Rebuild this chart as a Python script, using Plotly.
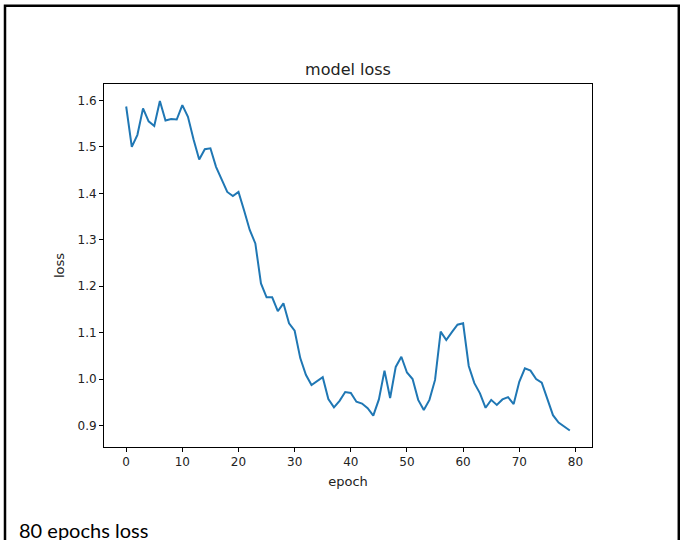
import plotly.graph_objects as go

epochs = list(range(80))
loss = [1.587, 1.500, 1.526, 1.583, 1.555, 1.545, 1.599, 1.557, 1.560, 1.559,
        1.590, 1.565, 1.516, 1.473, 1.495, 1.497, 1.457, 1.431, 1.403, 1.394,
        1.403, 1.363, 1.321, 1.292, 1.206, 1.176, 1.176, 1.146, 1.163, 1.120,
        1.104, 1.045, 1.009, 0.987, 0.995, 1.004, 0.957, 0.939, 0.953, 0.972,
        0.970, 0.951, 0.947, 0.937, 0.921, 0.956, 1.018, 0.959, 1.026, 1.048,
        1.014, 1.000, 0.955, 0.933, 0.955, 0.998, 1.102, 1.084, 1.101, 1.117,
        1.120, 1.028, 0.991, 0.969, 0.938, 0.955, 0.944, 0.956, 0.961, 0.946,
        0.994, 1.023, 1.018, 1.000, 0.992, 0.956, 0.922, 0.906, 0.898, 0.889]

x_ticks = [0, 10, 20, 30, 40, 50, 60, 70, 80]
y_ticks = [0.9, 1.0, 1.1, 1.2, 1.3, 1.4, 1.5, 1.6]
title_text = "model loss"
x_label = "epoch"
y_label = "loss"
caption = "80 epochs loss"

L, R, T, B = 104, 592, 84, 447
W, H = 680, 540
pw, ph = R - L, B - T

def px(xp):
    return (xp - L) / pw

def py(yp):
    return (B - yp) / ph

fig = go.Figure()
fig.add_trace(go.Scatter(x=epochs, y=loss, mode="lines",
                         line=dict(color="#1f77b4", width=2),
                         hoverinfo="skip", showlegend=False))

axis_common = dict(showgrid=False, zeroline=False, showline=True, linecolor="black",
                   linewidth=1, mirror=True, ticks="outside", ticklen=4, tickwidth=1,
                   tickcolor="black", tickfont=dict(family="DejaVu Sans", size=12, color="#222"))

fig.update_xaxes(range=[-3.95, 82.95], tickvals=x_ticks, ticktext=[str(v) for v in x_ticks],
                 title=dict(text=x_label, font=dict(family="DejaVu Sans", size=13, color="#222"), standoff=8),
                 **axis_common)
fig.update_yaxes(range=[0.8535, 1.6355], tickvals=y_ticks, ticktext=[f"{v:.1f}" for v in y_ticks],
                 title=dict(text=y_label, font=dict(family="DejaVu Sans", size=13, color="#222"), standoff=9),
                 **axis_common)

fig.update_layout(
    width=W, height=H,
    margin=dict(l=L, r=W - R, t=T, b=H - B, pad=0),
    paper_bgcolor="white", plot_bgcolor="white",
    title=dict(text=title_text, x=(L + R) / 2 / W, xanchor="center",
               y=1 - 69 / H, yanchor="middle",
               font=dict(family="DejaVu Sans", size=16, color="#222")),
    shapes=[dict(type="rect", xref="paper", yref="paper",
                 x0=px(5), x1=px(678.8), y0=py(5.8), y1=py(560),
                 line=dict(color="black", width=2.5), fillcolor="rgba(0,0,0,0)")],
    annotations=[dict(text=caption, xref="paper", yref="paper", x=px(17), y=py(530),
                      xanchor="left", yanchor="middle", showarrow=False,
                      font=dict(family="Lato", size=20, color="black"))],
)

fig.write_html("out.html")
